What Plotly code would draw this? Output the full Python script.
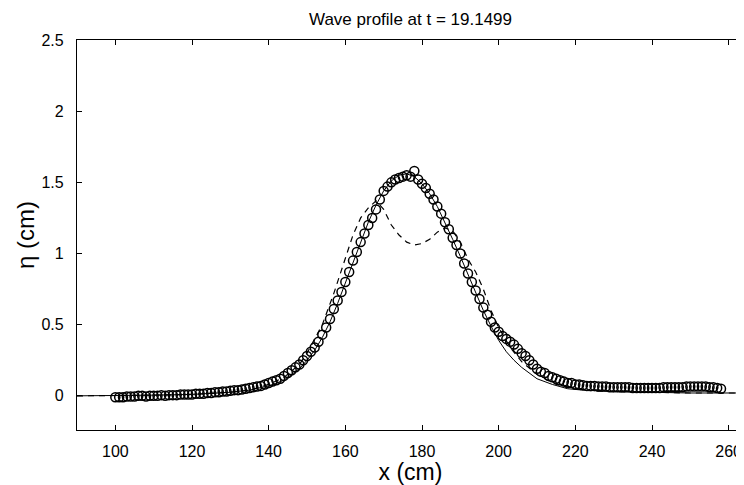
import plotly.graph_objects as go

# measured wave gauge profile (circles), one reading per cm from 100 to 258 cm
meas_x = list(range(100, 259))
meas_eta = [
    -0.01, -0.01, -0.01, -0.005, -0.005, -0.005, 0.0, 0.0, -0.005, 0.0,
    0.0, 0.0, 0.005, 0.0, 0.005, 0.005, 0.005, 0.01, 0.01, 0.01,
    0.01, 0.015, 0.015, 0.015, 0.02, 0.02, 0.025, 0.025, 0.03, 0.03,
    0.035, 0.04, 0.04, 0.045, 0.05, 0.055, 0.06, 0.065, 0.07, 0.08,
    0.09, 0.10, 0.11, 0.12, 0.14, 0.16, 0.18, 0.20, 0.22, 0.25,
    0.28, 0.31, 0.34, 0.38, 0.43, 0.48, 0.54, 0.61, 0.67, 0.73,
    0.80, 0.87, 0.95, 1.01, 1.08, 1.14, 1.20, 1.25, 1.31, 1.38,
    1.44, 1.47, 1.50, 1.52, 1.53, 1.54, 1.55, 1.54, 1.58, 1.52,
    1.49, 1.46, 1.42, 1.38, 1.33, 1.28, 1.22, 1.17, 1.11, 1.06,
    1.00, 0.93, 0.86, 0.80, 0.74, 0.68, 0.62, 0.57, 0.52, 0.48,
    0.45, 0.42, 0.40, 0.38, 0.36, 0.33, 0.30, 0.28, 0.25, 0.22,
    0.19, 0.17, 0.16, 0.14, 0.13, 0.12, 0.11, 0.10, 0.09, 0.09,
    0.08, 0.08, 0.075, 0.07, 0.07, 0.07, 0.065, 0.065, 0.065, 0.06,
    0.06, 0.06, 0.06, 0.06, 0.06, 0.055, 0.055, 0.055, 0.055, 0.055,
    0.055, 0.055, 0.055, 0.06, 0.06, 0.06, 0.06, 0.06, 0.06, 0.065,
    0.065, 0.065, 0.065, 0.065, 0.065, 0.06, 0.06, 0.055, 0.05,
]

# model solution (solid)
model_x = [90, 100, 110, 120, 130, 135, 140, 144, 148, 150, 152, 154, 156, 158,
           160, 162, 164, 166, 168, 170, 172, 174, 176, 178, 180, 182, 184, 186,
           188, 190, 192, 194, 196, 198, 200, 202, 204, 206, 208, 210, 214, 218,
           222, 230, 240, 250, 265]
model_eta = [0.0, 0.0, 0.005, 0.01, 0.025, 0.04, 0.07, 0.11, 0.19, 0.25, 0.32,
             0.41, 0.52, 0.65, 0.79, 0.94, 1.08, 1.22, 1.34, 1.44, 1.51, 1.55,
             1.56, 1.54, 1.49, 1.42, 1.33, 1.22, 1.10, 0.98, 0.85, 0.72, 0.60,
             0.49, 0.39, 0.31, 0.25, 0.20, 0.16, 0.12, 0.08, 0.05, 0.04, 0.03,
             0.025, 0.02, 0.02]

# second model (dashed), split crest
alt_x = [90, 100, 110, 120, 130, 135, 140, 144, 148, 150, 154, 157, 160, 162,
         164, 166, 168, 170, 172, 174, 176, 178, 180, 182, 184, 186, 188, 190,
         192, 194, 196, 198, 200, 203, 206, 210, 215, 222, 230, 240, 250, 265]
alt_eta = [0.0, 0.0, 0.005, 0.01, 0.025, 0.04, 0.08, 0.13, 0.22, 0.30, 0.50,
           0.72, 0.96, 1.13, 1.25, 1.32, 1.37, 1.31, 1.20, 1.13, 1.08, 1.06,
           1.07, 1.10, 1.15, 1.18, 1.16, 1.08, 0.96, 0.87, 0.75, 0.60, 0.48,
           0.34, 0.24, 0.15, 0.08, 0.04, 0.03, 0.025, 0.02, 0.02]

x_ticks = [100, 120, 140, 160, 180, 200, 220, 240, 260]
y_ticks = [0, 0.5, 1, 1.5, 2, 2.5]
y_labels = ["0", "0.5", "1", "1.5", "2", "2.5"]

FONT = "Liberation Sans, Arial, Helvetica, sans-serif"

# the page body adds an 8px margin, so the figure is sized to fill the rest
W, H = 736, 477

fig = go.Figure()
fig.add_trace(go.Scatter(
    x=model_x, y=model_eta, mode="lines",
    line=dict(color="black", width=1),
    name="model",
))
fig.add_trace(go.Scatter(
    x=alt_x, y=alt_eta, mode="lines",
    line=dict(color="black", width=1.2, dash="6px,5px"),
    name="model 2",
))
fig.add_trace(go.Scatter(
    x=meas_x, y=meas_eta, mode="markers",
    marker=dict(symbol="circle-open", size=9, color="black",
                line=dict(color="black", width=1.5)),
    name="measured",
))

fig.update_layout(
    width=W,
    height=H,
    margin=dict(l=69, r=0, t=32, b=55),
    paper_bgcolor="white",
    plot_bgcolor="white",
    showlegend=False,
    font=dict(family=FONT, color="black", size=16),
    title=dict(
        text="Wave profile at t = 19.1499",
        x=0.5, xref="paper", xanchor="center",
        y=1 - 11 / H, yref="container", yanchor="middle",
        font=dict(family=FONT, size=17, color="black"),
    ),
)

fig.update_xaxes(
    range=[90, 264],
    tickvals=x_ticks,
    ticks="inside", ticklen=5, tickcolor="black", tickwidth=1,
    showline=True, linecolor="black", linewidth=1.3, mirror="ticks",
    showgrid=False, zeroline=False,
    tickfont=dict(size=16),
    ticklabelstandoff=7,
    ticklabeloverflow="allow",
    automargin=False,
    title=dict(text="x (cm)", font=dict(size=23), standoff=3),
)
fig.update_yaxes(
    range=[-0.24, 2.5],
    tickvals=y_ticks, ticktext=y_labels,
    ticks="inside", ticklen=5, tickcolor="black", tickwidth=1,
    showline=True, linecolor="black", linewidth=1.3, mirror=False,
    showgrid=False, zeroline=False,
    tickfont=dict(size=16),
    ticklabelstandoff=9,
    automargin=False,
    title=dict(text="η (cm)", font=dict(size=24), standoff=0),
)

fig.write_html("out.html")
